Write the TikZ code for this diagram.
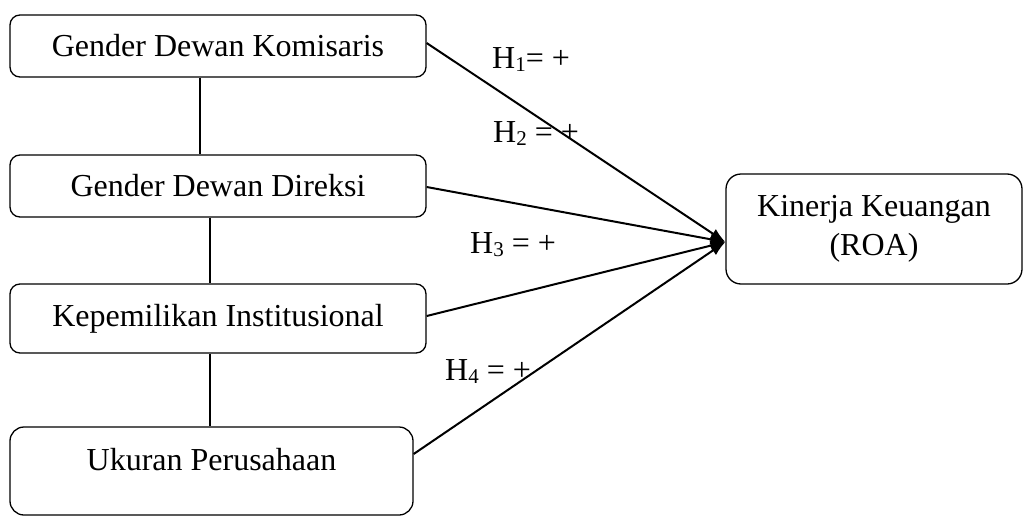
\documentclass[tikz,border=0pt]{standalone}
\usepackage{fontspec}
\setmainfont{Liberation Serif}
\usetikzlibrary{arrows.meta}
\newcommand{\hsub}[1]{{\fontsize{21}{21}\selectfont\raisebox{-3pt}{#1}}}
\begin{document}
\begin{tikzpicture}[x=1pt,y=-1pt,
  varbox/.style={draw,line width=1.3pt,rounded corners=10pt,inner sep=0pt,
    font=\fontsize{32}{39}\selectfont,align=center},
  link/.style={line width=1.3pt},
  hyp/.style={line width=2pt,-{Latex[length=15pt,width=11pt]}},
  hlabel/.style={anchor=base west,inner sep=0pt,font=\fontsize{32}{39}\selectfont}]
\useasboundingbox (0,0) rectangle (1024,516);
\node[varbox,minimum width=416pt,minimum height=62pt] (b1) at (218,46) {Gender Dewan Komisaris};
\node[varbox,minimum width=416pt,minimum height=62pt] (b2) at (218,186) {Gender Dewan Direksi};
\node[varbox,minimum width=416pt,minimum height=69pt] (b3) at (218,318.5) {Kepemilikan Institusional};
\node[varbox,rounded corners=14pt,minimum width=403pt,minimum height=88pt,text height=22pt,text depth=24pt] (b4) at (211.5,471) {Ukuran Perusahaan};
\node[varbox,rounded corners=15pt,minimum width=296pt,minimum height=110pt] (k) at (874,229) {Kinerja Keuangan\\(ROA)};
\coordinate (tip) at ([yshift=-13pt]k.west);
\draw[link] ([xshift=-18pt]b1.south) -- ([xshift=-18pt]b2.north);
\draw[link] ([xshift=-8pt]b2.south) -- ([xshift=-8pt]b3.north);
\draw[link] ([xshift=-8pt]b3.south) -- ([xshift=-8pt]b3.south |- b4.north);
\draw[hyp] ([yshift=3pt]b1.east) -- (tip);
\draw[hyp] ([yshift=-1pt]b2.east) -- (tip);
\draw[hyp] ([yshift=2.5pt]b3.east) -- (tip);
\draw[hyp] ([yshift=17pt]b4.east) -- (tip);
\node[hlabel] (h1) at (492,69) {H\hsub{1}= +};
\node[hlabel] (h2) at (493,142) {H\hsub{2} = +};
\node[hlabel] (h3) at (470,253) {H\hsub{3} = +};
\node[hlabel] (h4) at (445,380) {H\hsub{4} = +};
\end{tikzpicture}
\end{document}
